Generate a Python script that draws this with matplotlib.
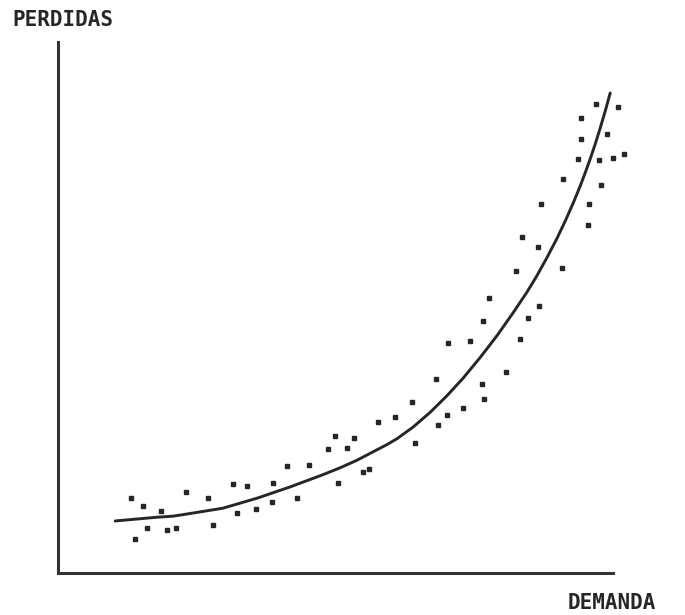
import matplotlib
matplotlib.use("Agg")
import matplotlib.pyplot as plt

# curva de perdidas ajustada (demanda, perdidas)
curva_demanda = [10.3, 17.8, 20.7, 23.2, 29.7, 35.9, 38.7, 41.8, 47.7, 50.8,
                 53.8, 59.3, 61.1, 64.0, 67.0, 70.1, 73.0, 76.0, 79.1, 82.0,
                 84.5, 86.3, 88.1, 89.9, 91.4, 92.8, 94.1, 95.0, 95.9, 96.8,
                 97.7, 98.6, 99.5]
curva_perdidas = [9.8, 10.5, 10.7, 11.1, 12.2, 14.1, 15.1, 16.2, 18.5, 19.8,
                  21.2, 24.2, 25.3, 27.5, 30.2, 33.4, 36.7, 40.5, 44.7, 49.0,
                  52.9, 56.0, 59.4, 63.0, 66.3, 69.6, 72.9, 75.4, 78.0, 80.8,
                  83.8, 87.0, 90.4]

# mediciones
med_demanda = [13.2, 15.3, 18.6, 16.0, 19.6, 21.3, 13.9, 23.1, 27.0, 27.9,
               31.5, 34.1, 32.3, 35.7, 38.6, 38.7, 41.3, 43.1, 45.2, 48.6,
               52.1, 50.5, 55.0, 56.0, 49.9, 53.3, 57.7, 60.7, 63.8, 64.3,
               68.1, 70.1, 68.5, 70.3, 74.2, 73.0, 76.4, 76.8, 80.7, 83.2,
               84.7, 76.6, 77.7, 86.7, 82.5, 86.5, 83.6, 90.8, 87.0, 95.7,
               95.5, 91.0, 97.8, 93.7, 97.5, 100.0, 94.2, 98.9, 94.2, 96.9,
               100.9, 102.0]
med_perdidas = [14.1, 12.6, 11.7, 8.5, 8.1, 8.5, 6.4, 15.3, 14.1, 9.0,
                16.8, 16.4, 11.3, 12.1, 13.4, 16.9, 20.2, 14.1, 20.3, 23.4,
                23.5, 16.9, 19.0, 19.6, 25.8, 25.4, 28.4, 29.4, 32.2, 24.5,
                36.5, 29.8, 27.9, 43.3, 43.7, 31.1, 35.6, 32.8, 37.9, 44.1,
                48.0, 47.5, 51.8, 50.3, 56.9, 61.4, 63.3, 57.4, 69.5, 69.5,
                65.5, 74.2, 73.1, 78.0, 77.8, 78.2, 81.7, 82.7, 85.7, 88.3,
                87.8, 78.9]

tinta = "#262626"

fig = plt.figure(figsize=(6.85, 6.15), dpi=100)
ax = fig.add_axes([58 / 685, 42 / 615, 555 / 685, 531 / 615])

ax.plot(curva_demanda, curva_perdidas, color=tinta, lw=2.1,
        solid_joinstyle="round", solid_capstyle="round", clip_on=False)
ax.plot(med_demanda, med_perdidas, ls="none", marker="s", ms=2.8,
        mfc=tinta, mec=tinta, clip_on=False)

ax.set_xlim(0, 100)
ax.set_ylim(0, 100)
for s in ["top", "right"]:
    ax.spines[s].set_visible(False)
for s in ["left", "bottom"]:
    ax.spines[s].set_linewidth(2.2)
    ax.spines[s].set_color("#333333")
ax.set_xticks([])
ax.set_yticks([])

fig.text(12 / 685, 1 - 20 / 615, "PERDIDAS", family="DejaVu Sans Mono",
         weight="bold", fontsize=15, color=tinta, va="center", ha="left")
fig.text(568 / 685, 1 - 603 / 615, "DEMANDA", family="DejaVu Sans Mono",
         weight="bold", fontsize=15, color=tinta, va="center", ha="left")

fig.savefig("out.png", dpi=100)
